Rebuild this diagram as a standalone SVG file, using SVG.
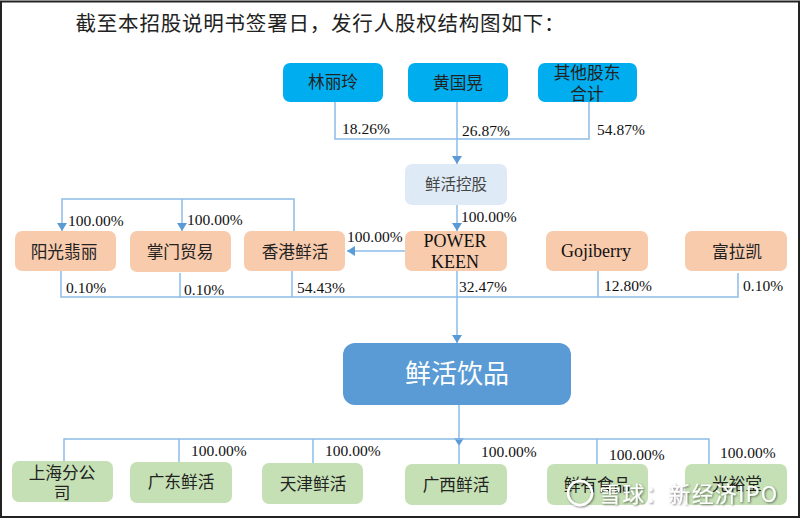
<svg xmlns="http://www.w3.org/2000/svg" width="800" height="519" viewBox="0 0 800 519">
<defs>
<marker id="a" markerUnits="userSpaceOnUse" markerWidth="10" markerHeight="10" refX="9" refY="5" orient="auto"><path d="M1 0L9 5L1 10Z" fill="#5b9bd5"/></marker>
<filter id="s" x="-5%" y="-20%" width="110%" height="140%"><feDropShadow dx="1" dy="1" stdDeviation="0.8" flood-color="#000" flood-opacity="0.55"/></filter>
</defs>
<style>
text{font-family:"Noto Sans CJK SC","Liberation Serif",serif;fill:#222;text-anchor:middle}
.p{font-family:"Liberation Serif",serif;font-size:15.5px;text-anchor:start;fill:#111}
.n{font-size:16.7px}
.l{font-family:"Liberation Serif","Noto Sans CJK SC",serif;font-size:18px;fill:#111}
.c path{fill:none;stroke:#8dbce8;stroke-width:1.5}
.b rect{fill:#00aeef}
.o rect{fill:#f8cbad}
.g rect{fill:#c5e0b4}
</style>
<rect x="1" y="1.5" width="798" height="515.5" fill="#fff" stroke="#222" stroke-width="2"/>
<text x="320" y="31" style="font-size:20.5px;fill:#222" textLength="489" lengthAdjust="spacing">截至本招股说明书签署日，发行人股权结构图如下：</text>
<g class="c" id="connectors">
<path d="M335 102V139H589V102"/>
<path d="M457 102V164" marker-end="url(#a)"/>
<path d="M457 205V231" marker-end="url(#a)"/>
<path d="M405 251H347" marker-end="url(#a)"/>
<path d="M294 231V199H62V231" marker-end="url(#a)"/>
<path d="M182 199V231" marker-end="url(#a)"/>
<path d="M61 271V297H738V273"/>
<path d="M180 273V298"/>
<path d="M292 271V297"/>
<path d="M598 271V297"/>
<path d="M457 271V343" marker-end="url(#a)"/>
<path d="M459 404V446" marker-end="url(#a)"/>
<path d="M459 444V465"/>
<path d="M64 462V439H709V464"/>
<path d="M179 439V463"/>
<path d="M313 439V464"/>
<path d="M597 439V465"/>
</g>
<g id="n1" class="b"><rect x="283" y="63" width="100" height="39" rx="7"/><text class="n" x="333" y="88">林丽玲</text></g>
<g id="n2" class="b"><rect x="408" y="63" width="100" height="39" rx="7"/><text class="n" x="458" y="89">黄国晃</text></g>
<g id="n3" class="b"><rect x="538" y="63" width="99" height="39" rx="7"/><text class="n" x="587" y="79">其他股东</text><text class="n" x="587" y="100">合计</text></g>
<g id="n4"><rect x="405" y="164" width="102" height="41" rx="7" fill="#deebf7"/><text x="456" y="190" style="font-size:15.5px;fill:#444">鲜活控股</text></g>
<g id="n5" class="o"><rect x="15" y="231" width="101" height="40" rx="7"/><text class="n" x="64" y="258">阳光翡丽</text></g>
<g id="n6" class="o"><rect x="130" y="231" width="101" height="41" rx="7"/><text class="n" x="180" y="258">掌门贸易</text></g>
<g id="n7" class="o"><rect x="244" y="231" width="101" height="40" rx="7"/><text class="n" x="295" y="258">香港鲜活</text></g>
<g id="n8" class="o"><rect x="405" y="231" width="102" height="40" rx="7"/><text class="l" x="455" y="247">POWER</text><text class="l" x="455" y="268">KEEN</text></g>
<g id="n9" class="o"><rect x="546" y="231" width="102" height="40" rx="7"/><text class="l" x="596" y="257">Gojiberry</text></g>
<g id="n10" class="o"><rect x="685" y="231" width="102" height="40" rx="7"/><text class="n" x="737" y="258">富拉凯</text></g>
<g id="n11"><rect x="343" y="343" width="228" height="62" rx="12" fill="#5b9bd5"/><text x="457" y="383" style="font-size:26px;fill:#fff">鲜活饮品</text></g>
<g id="n12" class="g"><rect x="12" y="461" width="101" height="41" rx="7"/><text class="n" x="62" y="479">上海分公</text><text class="n" x="62" y="499">司</text></g>
<g id="n13" class="g"><rect x="130" y="462" width="102" height="41" rx="7"/><text class="n" x="181" y="488">广东鲜活</text></g>
<g id="n14" class="g"><rect x="262" y="463" width="101" height="41" rx="7"/><text class="n" x="313" y="490">天津鲜活</text></g>
<g id="n15" class="g"><rect x="405" y="464" width="102" height="41" rx="7"/><text class="n" x="456" y="491">广西鲜活</text></g>
<g id="n16" class="g"><rect x="547" y="464" width="101" height="41" rx="7"/><text class="n" x="597" y="491">鲜有食品</text></g>
<g id="n17" class="g"><rect x="685" y="464" width="102" height="41" rx="7"/><text class="n" x="737" y="490">光裕堂</text></g>
<g id="labels">
<text class="p" x="342" y="134">18.26%</text>
<text class="p" x="462" y="136">26.87%</text>
<text class="p" x="597" y="135">54.87%</text>
<text class="p" x="461" y="222">100.00%</text>
<text class="p" x="68" y="226">100.00%</text>
<text class="p" x="187" y="225">100.00%</text>
<text class="p" x="347" y="242">100.00%</text>
<text class="p" x="66" y="293">0.10%</text>
<text class="p" x="184" y="295">0.10%</text>
<text class="p" x="297" y="293">54.43%</text>
<text class="p" x="459" y="292">32.47%</text>
<text class="p" x="604" y="291">12.80%</text>
<text class="p" x="743" y="291">0.10%</text>
<text class="p" x="191" y="456">100.00%</text>
<text class="p" x="325" y="456">100.00%</text>
<text class="p" x="481" y="457">100.00%</text>
<text class="p" x="609" y="460">100.00%</text>
<text class="p" x="720" y="458">100.00%</text>
</g>
<g id="watermark" filter="url(#s)">
<circle cx="580" cy="493" r="12" fill="none" stroke="#fff" stroke-width="2.5"/>
<text x="599" y="502" style="font-size:22px;fill:#fff;text-anchor:start;font-family:'Noto Sans CJK SC',sans-serif" textLength="178" lengthAdjust="spacing">雪球：新经济IPO</text>
</g>
</svg>
